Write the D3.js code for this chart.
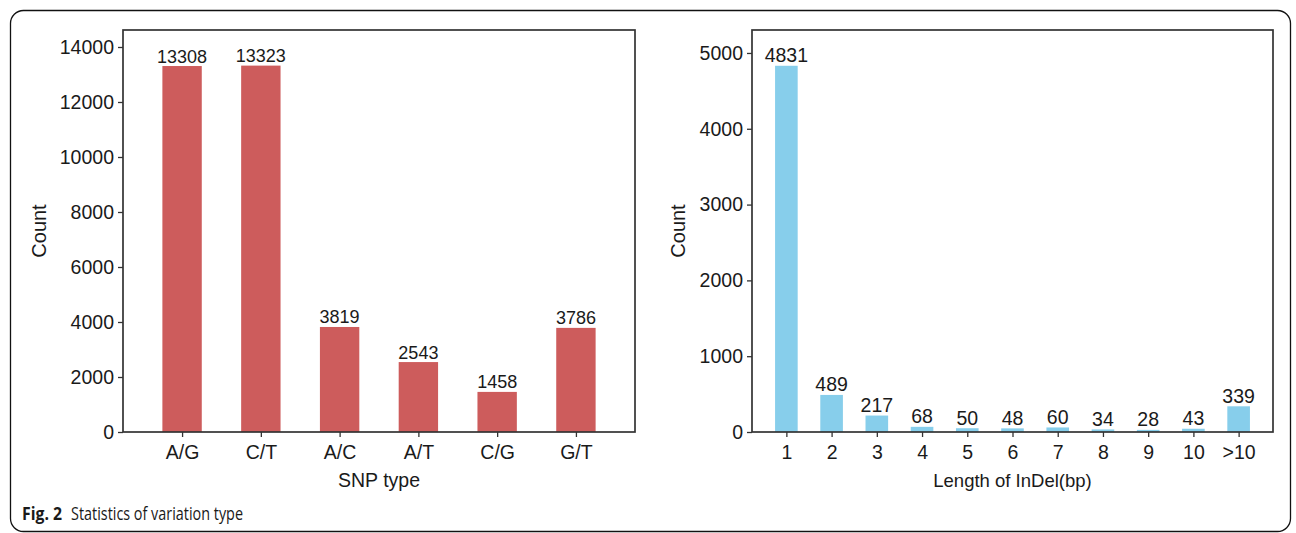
<!DOCTYPE html>
<html>
<head>
<meta charset="utf-8">
<script src="https://cdn.jsdelivr.net/npm/d3@7"></script>
<style>
  html, body { margin: 0; padding: 0; background: #fff; }
  svg { display: block; }
  text { font-family: "Liberation Sans", Arial, sans-serif; fill: #1a1a1a; }
</style>
</head>
<body>
<svg id="fig" width="1296" height="533"></svg>
<script>
// SNP substitution types and their counts
const snpTypes = ["A/G", "C/T", "A/C", "A/T", "C/G", "G/T"];
const snpCounts = [13308, 13323, 3819, 2543, 1458, 3786];
const snpTicks = [0, 2000, 4000, 6000, 8000, 10000, 12000, 14000];

// InDel length classes and their counts
const indelLengths = ["1", "2", "3", "4", "5", "6", "7", "8", "9", "10", ">10"];
const indelCounts = [4831, 489, 217, 68, 50, 48, 60, 34, 28, 43, 339];
const indelTicks = [0, 1000, 2000, 3000, 4000, 5000];

const svg = d3.select("#fig");

// rounded frame around the whole figure
svg.append("rect")
  .attr("x", 10.5).attr("y", 10.5)
  .attr("width", 1280).attr("height", 521)
  .attr("rx", 13).attr("ry", 13)
  .attr("fill", "none").attr("stroke", "#111").attr("stroke-width", 1.3);

function barPanel(opt) {
  const { left, right, top, bottom, cats, vals, ticks, yMax, color,
          xTitle, yTitleX, tickFont, valFont, titleFont, pad } = opt;
  const g = svg.append("g");

  const x = d3.scalePoint().domain(cats).range([left, right]).padding(pad);
  const y = d3.scaleLinear().domain([0, yMax]).range([bottom, top]);
  const bw = x.step() * 0.5;

  // bars
  g.selectAll("rect.bar").data(vals).join("rect")
    .attr("class", "bar")
    .attr("x", (d, i) => x(cats[i]) - bw / 2)
    .attr("y", d => y(d))
    .attr("width", bw)
    .attr("height", d => y(0) - y(d))
    .attr("fill", color);

  // value labels
  g.selectAll("text.val").data(vals).join("text")
    .attr("class", "val")
    .attr("x", (d, i) => x(cats[i]))
    .attr("y", d => y(d) - 3.5)
    .attr("text-anchor", "middle")
    .style("font-size", valFont + "px")
    .text(d => d);

  // plot frame
  g.append("rect")
    .attr("x", left).attr("y", top)
    .attr("width", right - left).attr("height", bottom - top)
    .attr("fill", "none").attr("stroke", "#333").attr("stroke-width", 1.7);

  // y axis
  const ya = g.append("g").attr("transform", `translate(${left},0)`)
    .call(d3.axisLeft(y).tickValues(ticks).tickSize(5).tickPadding(4).tickFormat(d3.format("d")));
  ya.select(".domain").remove();
  ya.selectAll(".tick line").attr("stroke", "#333").attr("stroke-width", 1.3);
  ya.selectAll(".tick text").style("font-size", tickFont + "px")
    .style("font-family", '"Liberation Sans", Arial, sans-serif').attr("fill", "#1a1a1a");

  // x axis
  const xa = g.append("g").attr("transform", `translate(0,${bottom})`)
    .call(d3.axisBottom(x).tickSize(5).tickPadding(8));
  xa.select(".domain").remove();
  xa.selectAll(".tick line").attr("stroke", "#333").attr("stroke-width", 1.3);
  xa.selectAll(".tick text").style("font-size", tickFont + "px")
    .style("font-family", '"Liberation Sans", Arial, sans-serif').attr("fill", "#1a1a1a");

  // axis titles
  g.append("text")
    .attr("x", (left + right) / 2).attr("y", 487)
    .attr("text-anchor", "middle")
    .style("font-size", titleFont + "px")
    .text(xTitle);

  g.append("text")
    .attr("transform", `translate(${yTitleX},${(top + bottom) / 2}) rotate(-90)`)
    .attr("text-anchor", "middle")
    .style("font-size", "20px")
    .text("Count");
}

barPanel({
  left: 123, right: 635, top: 30, bottom: 432,
  cats: snpTypes, vals: snpCounts, ticks: snpTicks, yMax: 14618,
  color: "#cd5c5c", xTitle: "SNP type", yTitleX: 46,
  tickFont: 19.5, valFont: 18, titleFont: 19.5, pad: 0.75
});

barPanel({
  left: 752, right: 1273, top: 30, bottom: 432,
  cats: indelLengths, vals: indelCounts, ticks: indelTicks, yMax: 5303,
  color: "#87ceeb", xTitle: "Length of InDel(bp)", yTitleX: 685,
  tickFont: 19.5, valFont: 19.5, titleFont: 18.5, pad: 0.76
});

// figure caption
const cap = svg.append("text")
  .attr("y", 520)
  .style("font-family", '"Open Sans", "Noto Sans", sans-serif')
  .style("font-size", "18px")
  .attr("fill", "#111");
cap.append("tspan").attr("x", 22).style("font-weight", "bold")
  .attr("textLength", 40).attr("lengthAdjust", "spacingAndGlyphs").text("Fig. 2");
cap.append("tspan").attr("x", 71)
  .attr("textLength", 172).attr("lengthAdjust", "spacingAndGlyphs").text("Statistics of variation type");
</script>
</body>
</html>
